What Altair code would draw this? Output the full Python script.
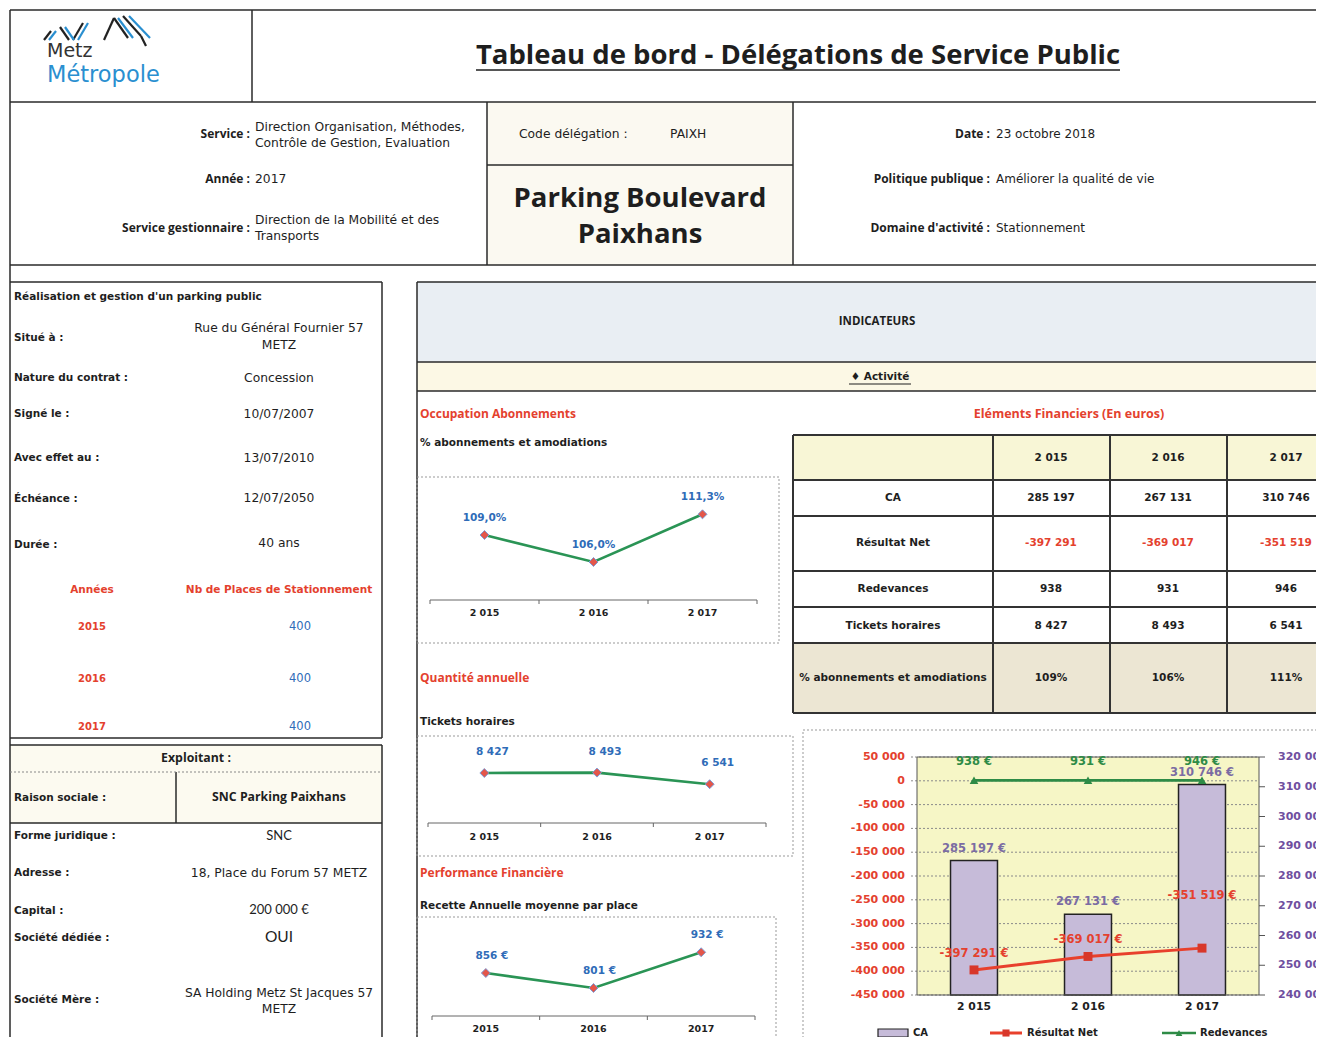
import altair as alt
import pandas as pd

OFF = 8
W, H = 1308, 1029
LT = "Lato"
OS = "Open Sans"
DV = "DejaVu Sans"
RED = "#e4412e"
BLUE = "#2f6cb8"
DARK = "#1e1e1e"
GREEN = "#2a9455"
PURPLE = "#6f4f9f"
LINE = "#2a2a2a"

# ---------------- data ----------------
YEARS = [2015, 2016, 2017]
YEAR_LABELS = ["2 015", "2 016", "2 017"]
YEAR_PLAIN = ["2015", "2016", "2017"]
PCT_ABO = [109.0, 106.0, 111.3]
TICKETS = [8427, 8493, 6541]
RECETTE = [856, 801, 932]
CA = [285197, 267131, 310746]
RESULTAT = [-397291, -369017, -351519]
REDEVANCES = [938, 931, 946]
PCT_TABLE = ["109%", "106%", "111%"]
PLACES = [400, 400, 400]
TABLE_ROWS = ["CA", "Résultat Net", "Redevances", "Tickets horaires", "% abonnements et amodiations"]
LEFT_TICKS = [50000, 0, -50000, -100000, -150000, -200000, -250000, -300000, -350000, -400000, -450000]
RIGHT_TICKS = [320000, 310000, 300000, 290000, 280000, 270000, 260000, 250000, 240000]


def fr(v):
    return f"{v:,}".replace(",", " ")


def P(v):
    return v - OFF


# ---------------- helpers ----------------
def text_layer(rows, align="left", weight="normal", font=LT, size=11.5, color=DARK):
    df = pd.DataFrame(rows, columns=["text", "x", "y"])
    df["x"] = df["x"] - OFF
    df["y"] = df["y"] - OFF
    return alt.Chart(df).mark_text(
        align=align, baseline="middle", font=font, fontWeight=weight, fontSize=size, color=color
    ).encode(
        x=alt.X("x:Q", scale=None, axis=None),
        y=alt.Y("y:Q", scale=None, axis=None),
        text="text:N",
    )


def rule_layer(segs, color=LINE, width=1.5, dash=None):
    df = pd.DataFrame(segs, columns=["x", "y", "x2", "y2"]) - OFF
    kw = dict(color=color, strokeWidth=width)
    if dash:
        kw["strokeDash"] = dash
    return alt.Chart(df).mark_rule(**kw).encode(
        x=alt.X("x:Q", scale=None, axis=None),
        y=alt.Y("y:Q", scale=None, axis=None),
        x2="x2:Q",
        y2="y2:Q",
    )


def rect_layer(rects, fill="white", stroke=None, width=1.0, dash=None, fill_opacity=1.0):
    df = pd.DataFrame(rects, columns=["x", "y", "x2", "y2"]) - OFF
    kw = dict(fill=fill, fillOpacity=fill_opacity)
    if stroke:
        kw["stroke"] = stroke
        kw["strokeWidth"] = width
    if dash:
        kw["strokeDash"] = dash
    return alt.Chart(df).mark_rect(**kw).encode(
        x=alt.X("x:Q", scale=None, axis=None),
        y=alt.Y("y:Q", scale=None, axis=None),
        x2="x2:Q",
        y2="y2:Q",
    )


layers = []

# ---------------- backgrounds ----------------
layers.append(rect_layer([(487, 102, 793, 265)], fill="#fbf9f1"))
layers.append(rect_layer([(417, 282, 1324, 362)], fill="#e9eef3"))
layers.append(rect_layer([(417, 362, 1324, 391)], fill="#fcf8e5"))
layers.append(rect_layer([(793, 435, 1324, 480)], fill="#f8f6d6"))
layers.append(rect_layer([(793, 643, 1324, 713)], fill="#ece6d3"))
layers.append(rect_layer([(10, 745, 382, 823)], fill="#fcfaf0"))
layers.append(rect_layer([(917, 757, 1259, 995)], fill="#f6f6c6"))

# ---------------- borders ----------------
layers.append(rule_layer([
    (10, 10, 1324, 10), (10, 10, 10, 1045), (252, 10, 252, 102), (10, 102, 1324, 102),
    (487, 102, 487, 265), (793, 102, 793, 265), (487, 165, 793, 165), (10, 265, 1324, 265),
    (10, 282, 382, 282), (382, 282, 382, 738), (10, 738, 382, 738),
    (10, 745, 382, 745), (382, 745, 382, 1045), (10, 823, 382, 823), (176, 772, 176, 823),
    (417, 282, 1324, 282), (417, 282, 417, 1045), (417, 362, 1324, 362), (417, 391, 1324, 391),
]))
# financial table grid
layers.append(rule_layer(
    [(793, yy, 1324, yy) for yy in [435, 480, 516, 571, 607, 643, 713]]
    + [(xx, 435, xx, 713) for xx in [793, 993, 1110, 1227]],
    color="#333333", width=2,
))
layers.append(rule_layer([(476, 70, 1120, 70)], color=DARK, width=1.6))
layers.append(rule_layer([(849, 384, 911, 384)], color=DARK, width=1))
layers.append(rule_layer([(10, 772, 382, 772)], color="#888888", width=1, dash=[2, 2]))
layers.append(rect_layer(
    [(417, 477, 779, 643), (417, 736, 793, 856), (417, 917, 776, 1045), (803, 730, 1324, 1045)],
    fill="white", fill_opacity=0, stroke="#999999", width=1, dash=[2, 2],
))

# ---------------- logo ----------------
layers.append(rule_layer([(44, 40, 51, 31), (60, 27, 69, 40), (73, 40, 83, 23), (104, 40, 114, 18),
                          (114, 18, 128, 38), (123, 16, 141, 36), (141, 36, 146, 46)],
                         color="#222222", width=2.2))
layers.append(rule_layer([(49, 40, 56, 31), (65, 27, 74, 40), (78, 40, 88, 23),
                          (118, 18, 133, 38), (129, 16, 150, 38)], color="#2a8fd0", width=2.2))
layers.append(text_layer([("Metz", 47, 51)], font=DV, size=19, color="#333333"))
layers.append(text_layer([("Métropole", 47, 75)], font=DV, size=22.5, color="#2a8fd0"))

# ---------------- header texts ----------------
layers.append(text_layer([("Tableau de bord - Délégations de Service Public", 798, 56)],
                         align="center", weight="bold", font=OS, size=27.5))
layers.append(text_layer([("Service :", 250, 134), ("Année :", 250, 179), ("Service gestionnaire :", 250, 228),
                          ("Date :", 990, 134), ("Politique publique :", 990, 179),
                          ("Domaine d'activité :", 990, 228)],
                         align="right", weight="bold", font=OS, size=12))
layers.append(text_layer([("Direction Organisation, Méthodes,", 255, 127), ("Contrôle de Gestion, Evaluation", 255, 143),
                          ("2017", 255, 179), ("Direction de la Mobilité et des", 255, 220), ("Transports", 255, 236),
                          ("Code délégation :", 519, 134), ("PAIXH", 670, 134)],
                         font=DV, size=12.3))
layers.append(text_layer([("23 octobre 2018", 996, 134), ("Améliorer la qualité de vie", 996, 179),
                          ("Stationnement", 996, 228)],
                         font=DV, size=12))
layers.append(text_layer([("Parking Boulevard", 640, 199), ("Paixhans", 640, 235)],
                         align="center", weight="bold", font=OS, size=27.5))

# ---------------- left boxes ----------------
layers.append(text_layer([("Réalisation et gestion d'un parking public", 14, 297), ("Situé à :", 14, 338),
                          ("Nature du contrat  :", 14, 378), ("Signé le :", 14, 414), ("Avec effet au :", 14, 458),
                          ("Échéance :", 14, 499), ("Durée :", 14, 545),
                          ("Raison sociale :", 14, 798), ("Forme juridique :", 14, 836), ("Adresse :", 14, 873),
                          ("Capital :", 14, 911), ("Société dédiée :", 14, 938), ("Société Mère :", 14, 1000)],
                         weight="bold", font=DV, size=10.5))
layers.append(text_layer([("Rue du Général Fournier 57", 279, 328), ("METZ", 279, 345), ("Concession", 279, 378),
                          ("10/07/2007", 279, 414), ("13/07/2010", 279, 458), ("12/07/2050", 279, 498),
                          ("40 ans", 279, 543), ("18, Place du Forum 57 METZ", 279, 873),
                          ("SA Holding Metz St Jacques 57", 279, 993), ("METZ", 279, 1009)],
                         align="center", font=DV, size=12.3))
layers.append(text_layer([("SNC", 279, 836), ("200 000 €", 279, 910)], align="center", size=13))
layers.append(text_layer([("OUI", 279, 937)], align="center", size=15.5))
layers.append(text_layer([("Exploitant :", 196, 758), ("SNC Parking Paixhans", 279, 797)],
                         align="center", weight="bold", font=OS, size=12.3))
layers.append(text_layer([("Années", 92, 590), ("Nb de Places de Stationnement", 279, 590)],
                         align="center", weight="bold", font=DV, size=10.5, color=RED))

# places table (data)
PLACE_Y = [627, 679, 727]
layers.append(text_layer([(YEAR_PLAIN[i], 92, PLACE_Y[i]) for i in range(3)],
                         align="center", weight="bold", font=DV, size=10, color=RED))
layers.append(text_layer([(str(PLACES[i]), 300, PLACE_Y[i]) for i in range(3)],
                         align="center", font=DV, size=11.5, color=BLUE))

# ---------------- middle texts ----------------
layers.append(text_layer([("INDICATEURS", 877, 322)], align="center", weight="bold", font=OS, size=11.5))
layers.append(text_layer([("♦ Activité", 880, 377)], align="center", weight="bold", font=DV, size=10.5))
layers.append(text_layer([("Occupation Abonnements", 420, 414), ("Quantité annuelle", 420, 678),
                          ("Performance Financière", 420, 873)],
                         weight="bold", font=OS, size=12, color=RED))
layers.append(text_layer([("% abonnements et amodiations", 420, 443), ("Tickets horaires", 420, 722),
                          ("Recette Annuelle moyenne par place", 420, 906)],
                         weight="bold", font=DV, size=10.5))
layers.append(text_layer([("Eléments Financiers  (En euros)", 1069, 414)],
                         align="center", weight="bold", font=OS, size=12.5, color=RED))

# ---------------- financial table ----------------
COL_X = [1051, 1168, 1286]
ROW_Y = [498, 543, 589, 626, 678]
layers.append(text_layer([(YEAR_LABELS[i], COL_X[i], 458) for i in range(3)],
                         align="center", weight="bold", font=DV, size=10.5))
layers.append(text_layer([(TABLE_ROWS[r], 893, ROW_Y[r]) for r in range(5)],
                         align="center", weight="bold", font=DV, size=10.5))
table_vals = []
for i in range(3):
    table_vals.append((fr(CA[i]), COL_X[i], ROW_Y[0]))
    table_vals.append((fr(REDEVANCES[i]), COL_X[i], ROW_Y[2]))
    table_vals.append((fr(TICKETS[i]), COL_X[i], ROW_Y[3]))
    table_vals.append((PCT_TABLE[i], COL_X[i], ROW_Y[4]))
layers.append(text_layer(table_vals, align="center", weight="bold", font=DV, size=10.5))
layers.append(text_layer([(fr(RESULTAT[i]), COL_X[i], ROW_Y[1]) for i in range(3)],
                         align="center", weight="bold", font=DV, size=10.5, color=RED))


# ---------------- small line charts ----------------
def small_line_chart(values, labels, xlabels, x0, x1, d0, d1, r0, r1, axis_y, label_y, dy, dx):
    df = pd.DataFrame({"year": YEARS, "value": values, "label": labels, "xl": xlabels})
    xs = alt.Scale(domain=[2014.5, 2017.5], range=[P(x0), P(x1)], nice=False, zero=False)
    ys = alt.Scale(domain=[d0, d1], range=[P(r0), P(r1)], nice=False, zero=False)
    X = alt.X("year:Q", scale=xs, axis=None)
    Y = alt.Y("value:Q", scale=ys, axis=None)
    base = alt.Chart(df)
    out = []
    ax = pd.DataFrame({"a": [2014.5], "b": [2017.5]})
    out.append(alt.Chart(ax).mark_rule(color="#666666", strokeWidth=1).encode(
        x=alt.X("a:Q", scale=xs, axis=None), x2="b:Q", y=alt.value(P(axis_y))))
    tk = pd.DataFrame({"b": [2014.5, 2015.5, 2016.5, 2017.5]})
    out.append(alt.Chart(tk).mark_rule(color="#666666", strokeWidth=1).encode(
        x=alt.X("b:Q", scale=xs, axis=None), y=alt.value(P(axis_y)), y2=alt.value(P(axis_y) + 4)))
    out.append(base.mark_text(font=DV, fontWeight="bold", fontSize=9.5, color=DARK, baseline="middle").encode(
        x=X, y=alt.value(P(label_y)), text="xl:N"))
    out.append(base.mark_line(color=GREEN, strokeWidth=2.6).encode(x=X, y=Y))
    out.append(base.mark_point(shape="diamond", filled=True, size=80, fill="#e3564a", stroke="#7d9bd6",
                               strokeWidth=1, opacity=1).encode(x=X, y=Y))
    out.append(base.mark_text(font=DV, fontWeight="bold", fontSize=10.5, color=BLUE, dy=dy, dx=dx,
                              baseline="middle").encode(x=X, y=Y, text="label:N"))
    return out


layers += small_line_chart(PCT_ABO, [f"{v:.1f}%".replace(".", ",") for v in PCT_ABO], YEAR_LABELS,
                           430, 757, 106, 109, 562, 535, 600, 613, -17, 0)
layers += small_line_chart(TICKETS, [fr(v) for v in TICKETS], YEAR_LABELS,
                           428, 766, 0, 8427, 823, 773, 823, 837, -21, 8)
layers += small_line_chart(RECETTE, [f"{v} €" for v in RECETTE], YEAR_PLAIN,
                           432, 755, 801, 856, 988, 973, 1016, 1029, -17, 6)

# ---------------- combo chart ----------------
cdf = pd.DataFrame({
    "yl": YEAR_LABELS, "ca": CA, "res": RESULTAT, "red": REDEVANCES,
    "ca_lab": [fr(v) + " €" for v in CA],
    "res_lab": [fr(v) + " €" for v in RESULTAT],
    "red_lab": [f"{v} €" for v in REDEVANCES],
})
cx = alt.Scale(domain=YEAR_LABELS, range=[P(917), P(1259)], paddingInner=0.588, paddingOuter=0.294)
ly = alt.Scale(domain=[-450000, 50000], range=[P(995), P(757)], nice=False, zero=False)
ry = alt.Scale(domain=[240000, 320000], range=[P(995), P(757)], nice=False, zero=False)
CX = alt.X("yl:N", scale=cx, axis=None)
cbase = alt.Chart(cdf)

ltk = pd.DataFrame({"v": LEFT_TICKS, "lab": [fr(v) for v in LEFT_TICKS]})
rtk = pd.DataFrame({"v": RIGHT_TICKS, "lab": [fr(v) for v in RIGHT_TICKS]})

layers.append(alt.Chart(ltk).mark_rule(color="#8a8a8a", strokeWidth=1, strokeDash=[2, 2]).encode(
    y=alt.Y("v:Q", scale=ly, axis=None), x=alt.value(P(911)), x2=alt.value(P(1259))))
layers.append(alt.Chart(rtk).mark_rule(color="#555555", strokeWidth=1).encode(
    y=alt.Y("v:Q", scale=ry, axis=None), x=alt.value(P(1259)), x2=alt.value(P(1265))))
layers.append(alt.Chart(ltk).mark_text(align="right", baseline="middle", font=DV, fontWeight="bold",
                                       fontSize=11, color=RED).encode(
    y=alt.Y("v:Q", scale=ly, axis=None), x=alt.value(P(905)), text="lab:N"))
layers.append(alt.Chart(rtk).mark_text(align="left", baseline="middle", font=DV, fontWeight="bold",
                                       fontSize=11, color=PURPLE).encode(
    y=alt.Y("v:Q", scale=ry, axis=None), x=alt.value(P(1278)), text="lab:N"))

layers.append(cbase.mark_bar(fill="#c6bbd9", stroke="#222222", strokeWidth=1.5).encode(
    x=CX, y=alt.Y("ca:Q", scale=ry, axis=None), y2=alt.datum(240000)))
layers.append(rect_layer([(917, 757, 1259, 995)], fill="white", fill_opacity=0, stroke="#555555", width=1))
layers.append(cbase.mark_text(font=DV, fontWeight="bold", fontSize=11.5, color="#7b6ca3", dy=-12,
                              baseline="middle").encode(
    x=CX, y=alt.Y("ca:Q", scale=ry, axis=None), text="ca_lab:N"))

layers.append(cbase.mark_line(color="#e8402c", strokeWidth=3).encode(
    x=CX, y=alt.Y("res:Q", scale=ly, axis=None)))
layers.append(cbase.mark_point(shape="square", filled=True, size=80, color="#d8372a", opacity=1).encode(
    x=CX, y=alt.Y("res:Q", scale=ly, axis=None)))
layers.append(cbase.mark_line(color="#2e8b46", strokeWidth=2.6).encode(
    x=CX, y=alt.Y("red:Q", scale=ly, axis=None)))
layers.append(cbase.mark_point(shape="triangle-up", filled=True, size=75, color="#2e8b46", opacity=1).encode(
    x=CX, y=alt.Y("red:Q", scale=ly, axis=None)))

layers.append(cbase.transform_filter(alt.datum.yl != "2 017").mark_text(
    font=DV, fontWeight="bold", fontSize=11.5, color=RED, dy=-16, baseline="middle").encode(
    x=CX, y=alt.Y("res:Q", scale=ly, axis=None), text="res_lab:N"))
layers.append(cbase.transform_filter(alt.datum.yl == "2 017").mark_text(
    font=DV, fontWeight="bold", fontSize=11.5, color=RED, dy=-52, baseline="middle").encode(
    x=CX, y=alt.Y("res:Q", scale=ly, axis=None), text="res_lab:N"))
layers.append(cbase.mark_text(font=DV, fontWeight="bold", fontSize=11.5, color="#2e8b46", dy=-18,
                              baseline="middle").encode(
    x=CX, y=alt.Y("red:Q", scale=ly, axis=None), text="red_lab:N"))
layers.append(cbase.mark_text(font=DV, fontWeight="bold", fontSize=10.8, color=DARK, baseline="middle").encode(
    x=CX, y=alt.value(P(1007)), text="yl:N"))

# legend
layers.append(rect_layer([(878, 1029, 908, 1037)], fill="#c6bbd9", stroke="#222222", width=1.2))
layers.append(rule_layer([(990, 1033, 1022, 1033)], color="#e8402c", width=3))
layers.append(rule_layer([(1162, 1033, 1196, 1033)], color="#2e8b46", width=2.6))
sq = pd.DataFrame({"x": [P(1006)], "y": [P(1033)]})
layers.append(alt.Chart(sq).mark_point(shape="square", filled=True, size=50, color="#d8372a", opacity=1).encode(
    x=alt.X("x:Q", scale=None, axis=None), y=alt.Y("y:Q", scale=None, axis=None)))
tr = pd.DataFrame({"x": [P(1179)], "y": [P(1033)]})
layers.append(alt.Chart(tr).mark_point(shape="triangle-up", filled=True, size=45, color="#2e8b46", opacity=1).encode(
    x=alt.X("x:Q", scale=None, axis=None), y=alt.Y("y:Q", scale=None, axis=None)))
layers.append(text_layer([("CA", 913, 1033), ("Résultat Net", 1027, 1033), ("Redevances", 1200, 1033)],
                         weight="bold", font=DV, size=10))

chart = alt.layer(*layers).resolve_scale(
    x="independent", y="independent"
).properties(
    width=W, height=H, padding=0, autosize=alt.AutoSizeParams(type="none"), background="white"
).configure_view(stroke=None)

chart.save("out.html", embed_options={"renderer": "svg", "actions": False})
